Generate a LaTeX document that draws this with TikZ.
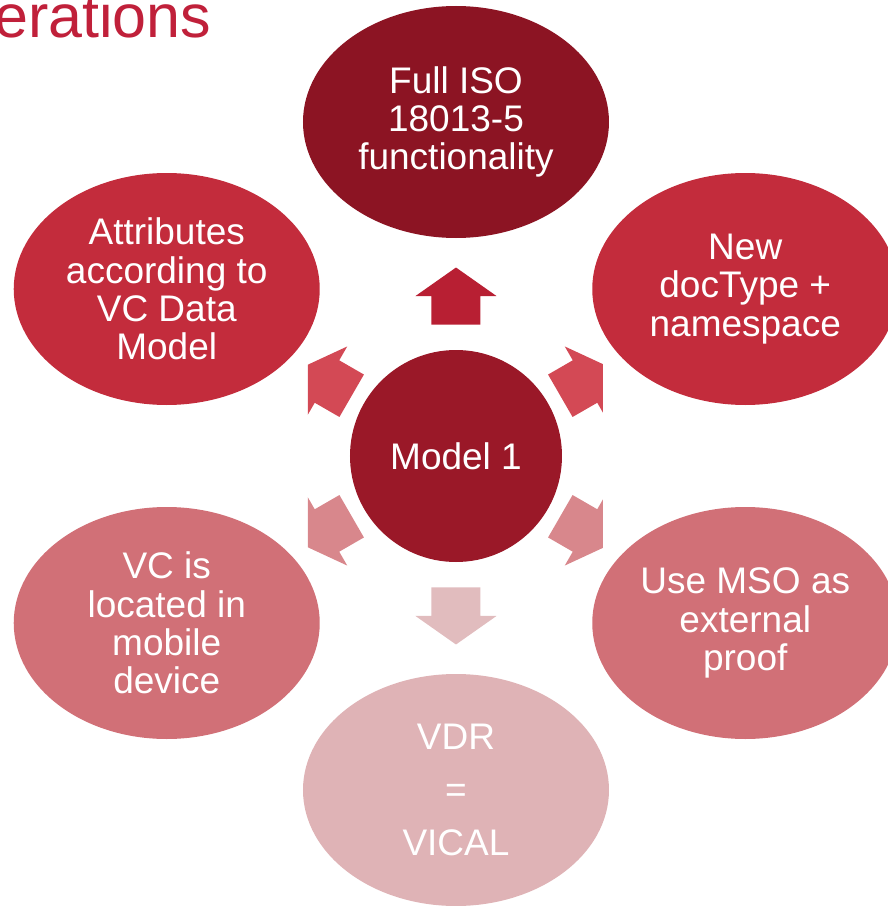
\documentclass[tikz,border=0pt]{standalone}
\usepackage{fontspec}
\setmainfont{Liberation Sans}
\usetikzlibrary{shapes.geometric,calc}

\definecolor{ctop}{HTML}{8C1423}
\definecolor{ccenter}{HTML}{9A1828}
\definecolor{cupper}{HTML}{C32C3C}
\definecolor{clower}{HTML}{D17077}
\definecolor{cbottom}{HTML}{DFB3B6}
\definecolor{atop}{HTML}{B81F33}
\definecolor{aupper}{HTML}{D34955}
\definecolor{alower}{HTML}{D8878C}
\definecolor{abottom}{HTML}{E1BCBE}
\definecolor{titlered}{HTML}{C0203A}

\begin{document}
\begin{tikzpicture}[x=1pt,y=1pt,
		bubble/.style={ellipse,minimum width=306pt,minimum height=232pt,inner sep=0pt,
			text=white,align=center,font=\fontsize{37}{38.4}\selectfont},
		blockarrow/.pic={\path[pic actions] (28.5,0) -- (0,40.5) -- (0,24.5) -- (-28.5,24.5)
			-- (-28.5,-24.5) -- (0,-24.5) -- (0,-40.5) -- cycle;}]
			\clip (-456,-450) rectangle (432,456);
			\node[anchor=base west,inner sep=0pt,text=titlered,font=\fontsize{61}{70}\selectfont] (title) at (-462,418) {erations};
			\node[circle,fill=ccenter,minimum size=212pt,inner sep=0pt,text=white,font=\fontsize{37}{38.4}\selectfont] (model) at (0,0) {Model 1};
			\node[bubble,fill=ctop] (fulliso) at (90:334) {Full ISO\\18013-5\\functionality};
			\node[bubble,fill=cupper] (doctype) at (30:334) {New\\docType +\\namespace};
			\node[bubble,fill=clower] (mso) at (-30:334) {Use MSO as\\external\\proof};
			\node[bubble,fill=cbottom] (vdr) at (-90:334) {VDR\\[15pt]=\\[15pt]VICAL};
			\node[bubble,fill=clower] (vcdevice) at (210:334) {VC is\\located in\\mobile\\device};
			\node[bubble,fill=cupper] (attrib) at (150:334) {Attributes\\according to\\VC Data\\Model};
			\pic[fill=atop,rotate=90] at ($(model.center)!0.479!(fulliso.center)$) {blockarrow};
			\pic[fill=abottom,rotate=-90] at ($(model.center)!0.479!(vdr.center)$) {blockarrow};
			\begin{scope}
				\clip (-148,-450) rectangle (147,456);
				\pic[fill=aupper,rotate=30] at ($(model.center)!0.446!(doctype.center)$) {blockarrow};
				\pic[fill=aupper,rotate=150] at ($(model.center)!0.446!(attrib.center)$) {blockarrow};
				\pic[fill=alower,rotate=-30] at ($(model.center)!0.446!(mso.center)$) {blockarrow};
				\pic[fill=alower,rotate=210] at ($(model.center)!0.446!(vcdevice.center)$) {blockarrow};
			\end{scope}
		\end{tikzpicture}
\end{document}
